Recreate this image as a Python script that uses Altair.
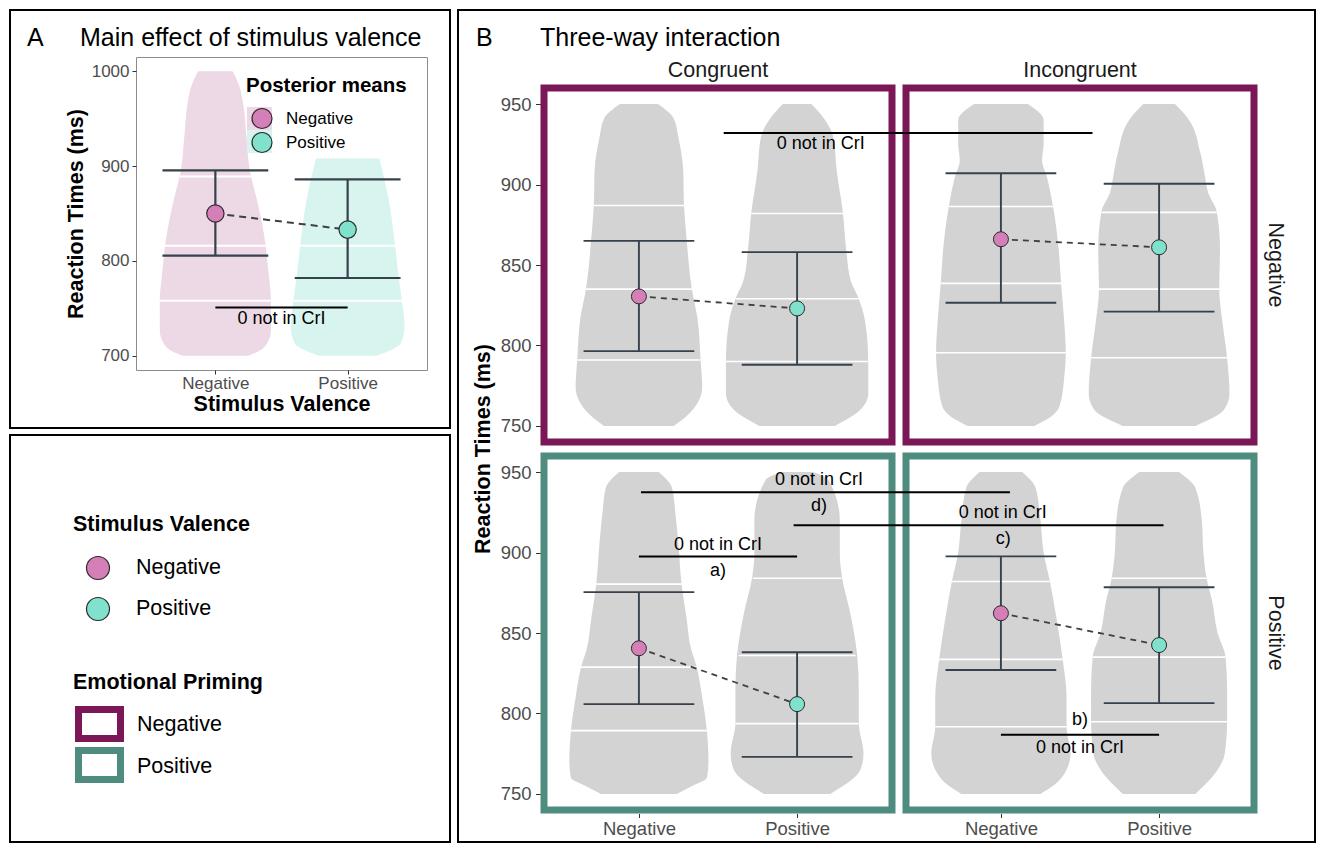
import altair as alt
import pandas as pd

FONT = "Liberation Sans"
PINK, TEAL = "#D47FB7", "#80E2CD"
PINK_LIGHT, TEAL_LIGHT = "#EDD8E6", "#D7F4EE"
PURPLE, GREEN = "#7B1657", "#4F8C80"
VIOLIN_GREY = "#D3D3D3"
BAR = "#37414B"
TICK_LABEL = "#4D4D4D"

VALENCE = ["Negative", "Positive"]
POS = [1, 2]
CONGRUENCY = ["Congruent", "Incongruent"]
PRIMING = ["Negative", "Positive"]

# ---------------- Panel A data ----------------
A_NEG_RT = [700, 705, 713, 727, 758, 790, 826, 861, 896, 931, 966, 985, 1000]
A_NEG_HW = [0.25, 0.33, 0.39, 0.42, 0.42, 0.40, 0.37, 0.32, 0.26, 0.235, 0.21, 0.18, 0.13]
A_POS_RT = [700, 705, 713, 731, 758, 790, 826, 861, 908]
A_POS_HW = [0.22, 0.31, 0.40, 0.43, 0.41, 0.38, 0.35, 0.315, 0.24]
A_QNEG_RT = [758, 816, 889]
A_QNEG_HW = [0.42, 0.38, 0.27]
A_QPOS_RT = [758, 816]
A_QPOS_HW = [0.41, 0.36]
A_MEAN = [850, 833]
A_LOW = [805.5, 782]
A_HIGH = [895.5, 886]
A_SIG_X = [1, 2]
A_SIG_Y = 751
A_SIG_LABEL_Y = 739

# ---------------- Panel B data ----------------
# TL: prime Negative / Congruent, TR: prime Negative / Incongruent
# BL: prime Positive / Congruent, BR: prime Positive / Incongruent
TL_NEG_RT = [750, 756, 766, 774, 791, 817, 835, 868, 887, 909, 929, 941, 950]
TL_NEG_HW = [0.22, 0.30, 0.38, 0.40, 0.39, 0.37, 0.335, 0.30, 0.285, 0.28, 0.25, 0.22, 0.12]
TL_POS_RT = [750, 760, 770, 790, 815, 829, 840, 860, 882, 909, 929, 941, 950]
TL_POS_HW = [0.24, 0.40, 0.45, 0.45, 0.43, 0.39, 0.34, 0.31, 0.29, 0.25, 0.23, 0.17, 0.09]
TR_NEG_RT = [750, 756, 762, 780, 795, 815, 839, 860, 886, 905, 915, 925, 940, 950]
TR_NEG_HW = [0.21, 0.32, 0.37, 0.40, 0.41, 0.40, 0.38, 0.365, 0.33, 0.29, 0.26, 0.27, 0.27, 0.17]
TR_POS_RT = [750, 760, 770, 792, 815, 835, 860, 883, 895, 905, 920, 940, 950]
TR_POS_HW = [0.23, 0.41, 0.445, 0.43, 0.40, 0.38, 0.385, 0.365, 0.31, 0.29, 0.26, 0.19, 0.10]
BL_NEG_RT = [750, 755, 760, 770, 789, 810, 829, 840, 860, 880, 905, 925, 940, 950]
BL_NEG_HW = [0.24, 0.34, 0.43, 0.44, 0.43, 0.40, 0.365, 0.33, 0.30, 0.27, 0.25, 0.23, 0.21, 0.125]
BL_POS_RT = [750, 765, 775, 794, 815, 836, 850, 865, 884, 900, 920, 945, 950]
BL_POS_HW = [0.21, 0.40, 0.42, 0.39, 0.39, 0.38, 0.36, 0.33, 0.285, 0.27, 0.27, 0.20, 0.10]
BR_NEG_RT = [750, 755, 765, 775, 792, 810, 834, 860, 882, 900, 920, 940, 950]
BR_NEG_HW = [0.25, 0.33, 0.415, 0.44, 0.415, 0.415, 0.39, 0.35, 0.31, 0.27, 0.25, 0.22, 0.135]
BR_POS_RT = [750, 765, 775, 795, 815, 835, 850, 870, 884, 900, 920, 940, 950]
BR_POS_HW = [0.23, 0.37, 0.415, 0.43, 0.43, 0.42, 0.37, 0.335, 0.30, 0.28, 0.27, 0.23, 0.125]

TL_Q_RT = [[791, 835, 887], [790, 829, 882]]
TL_Q_HW = [[0.39, 0.335, 0.285], [0.45, 0.39, 0.29]]
TR_Q_RT = [[795.5, 838.6, 886.4], [792.4, 835, 882.7]]
TR_Q_HW = [[0.41, 0.38, 0.33], [0.43, 0.38, 0.365]]
BL_Q_RT = [[789.3, 828.8, 880.4], [793.7, 836, 884]]
BL_Q_HW = [[0.43, 0.37, 0.27], [0.39, 0.37, 0.28]]
BR_Q_RT = [[791.7, 833.6, 882], [794.8, 835, 884]]
BR_Q_HW = [[0.415, 0.39, 0.31], [0.43, 0.42, 0.30]]

TL_MEAN, TL_LOW, TL_HIGH = [830.5, 823], [796.5, 788], [865, 858]
TR_MEAN, TR_LOW, TR_HIGH = [866, 861], [826.5, 821], [907, 900.5]
BL_MEAN, BL_LOW, BL_HIGH = [840.5, 805.8], [805.8, 773], [875.4, 838]
BR_MEAN, BR_LOW, BR_HIGH = [862.3, 842.5], [827, 806.4], [897.6, 878.4]

# brackets crossing from the Congruent panel to the Incongruent panel
XB_PRIME = ["Negative", "Positive", "Positive"]
XB_FROM = [1.536, 1.013, 1.978]
XB_TO = [1.579, 1.057, 2.028]
XB_Y = [932, 937.5, 917]
# brackets inside one panel
WB_PRIME = ["Positive", "Positive"]
WB_CONG = ["Congruent", "Incongruent"]
WB_FROM = [1, 1]
WB_TO = [2, 2]
WB_Y = [897.6, 786.7]
# bracket labels
LB_PRIME = ["Negative", "Positive", "Positive", "Positive", "Positive",
            "Positive", "Positive", "Positive", "Positive"]
LB_CONG = ["Congruent", "Congruent", "Congruent", "Incongruent", "Incongruent",
           "Congruent", "Congruent", "Incongruent", "Incongruent"]
LB_X = [2.149, 2.139, 2.139, 1.011, 1.015, 1.5, 1.5, 1.5, 1.5]
LB_Y = [925, 945, 929, 924.4, 908.6, 905, 888.5, 778.6, 795.8]
LB_TEXT = ["0 not in CrI", "0 not in CrI", "d)", "0 not in CrI", "c)",
           "0 not in CrI", "a)", "0 not in CrI", "b)"]

# ---------------- layout ----------------
A_W, A_H = 291, 313
B_W, B_H = 348, 354
B_GAP, B_SPY = 14, 14
ROW_W = 2 * B_W + B_GAP
SPACER_H = 31 - B_SPY
PITCH_U = (B_W + B_GAP) / (B_W / 2.2)
COL_OFF = [0, PITCH_U]
B_XDOM = [0.4, 2.6 + PITCH_U]
B_YDOM = [740, 960]
FRAME_BOTTOM = 785


def violin_frame(names, centers, rts_list, hws_list, key=""):
    rows = []
    for name, c, rts, hws in zip(names, centers, rts_list, hws_list):
        for r, h in zip(rts, hws):
            rows.append({"key": key + name, "valence": name, "rt": r, "lo": c - h, "hi": c + h})
    return pd.DataFrame(rows)


def summary_frame(means, lows, highs, cap, off=0.0, key=""):
    return pd.DataFrame({
        "key": [key] * 2, "valence": VALENCE, "center": [p + off for p in POS],
        "mean": means, "low": lows, "high": highs,
        "capl": [p + off - cap for p in POS], "capr": [p + off + cap for p in POS]})


def text_value(t, x, y, **kw):
    return alt.Chart(pd.DataFrame({"t": [t]})).mark_text(**kw).encode(
        x=alt.value(x), y=alt.value(y), text="t:N")


def box_value(x1, x2, y1, y2, **kw):
    return alt.Chart(pd.DataFrame({"f": [0]})).mark_rect(**kw).encode(
        x=alt.value(x1), x2=alt.value(x2), y=alt.value(y1), y2=alt.value(y2))


def frame_rect(x1, x2, y1, y2):
    return box_value(x1, x2, y1, y2, filled=False, stroke="black", strokeWidth=2)


# ---------------- Panel A ----------------
xsA = alt.Scale(domain=[0.4, 2.6], nice=False, zero=False)
ysA = alt.Scale(domain=[685, 1015], nice=False, zero=False)
axA_x = alt.Axis(values=POS, labelExpr=f"datum.value == 1 ? '{VALENCE[0]}' : '{VALENCE[1]}'",
                 title="Stimulus Valence", grid=False,
                 domain=False, tickSize=4, tickColor="#333333", labelFontSize=17,
                 labelColor=TICK_LABEL, labelPadding=1, titleFontSize=21.5,
                 titleFontWeight="bold", titleColor="black", titlePadding=2)
axA_y = alt.Axis(values=[700, 800, 900, 1000], format="d", title="Reaction Times (ms)", grid=False,
                 domain=False, tickSize=4, tickColor="#333333", labelFontSize=17,
                 labelColor=TICK_LABEL, labelPadding=3, titleFontSize=21.5,
                 titleFontWeight="bold", titleColor="black", titlePadding=4)


def XA(f):
    return alt.X(f, type="quantitative", scale=xsA, axis=axA_x)


def YA(f):
    return alt.Y(f, type="quantitative", scale=ysA, axis=axA_y)


dfA_v = violin_frame(VALENCE, POS, [A_NEG_RT, A_POS_RT], [A_NEG_HW, A_POS_HW])
dfA_q = violin_frame(VALENCE, POS, [A_QNEG_RT, A_QPOS_RT], [A_QNEG_HW, A_QPOS_HW])
dfA_s = summary_frame(A_MEAN, A_LOW, A_HIGH, 0.4)

violinA = alt.Chart(dfA_v).mark_area(orient="horizontal", interpolate="monotone", opacity=1).encode(
    y=YA("rt"), x=XA("lo"), x2="hi",
    fill=alt.Fill("valence:N", scale=alt.Scale(domain=VALENCE, range=[PINK_LIGHT, TEAL_LIGHT]),
                  legend=None))
quantA = alt.Chart(dfA_q).mark_rule(color="white", strokeWidth=1.8).encode(
    y=YA("rt"), x=XA("lo"), x2="hi")
baseA = alt.Chart(dfA_s)
errA = baseA.mark_rule(color=BAR, strokeWidth=2.2).encode(x=XA("center"), y=YA("low"), y2="high")
capHiA = baseA.mark_rule(color=BAR, strokeWidth=2.2).encode(x=XA("capl"), x2="capr", y=YA("high"))
capLoA = baseA.mark_rule(color=BAR, strokeWidth=2.2).encode(x=XA("capl"), x2="capr", y=YA("low"))
lineA = baseA.mark_line(color="#404040", strokeDash=[7, 5], strokeWidth=2).encode(
    x=XA("center"), y=YA("mean"))
ptsA = baseA.mark_point(filled=True, size=300, opacity=1, stroke="#2B2B2B", strokeWidth=1.2).encode(
    x=XA("center"), y=YA("mean"),
    fill=alt.Fill("valence:N", scale=alt.Scale(domain=VALENCE, range=[PINK, TEAL]),
                  legend=alt.Legend(title="Posterior means", orient="none", legendX=110, legendY=19,
                                    padding=0, symbolType="circle", symbolSize=400,
                                    symbolStrokeColor="#2B2B2B", symbolStrokeWidth=1.2,
                                    symbolOpacity=1, symbolOffset=5, labelOffset=13,
                                    labelFontSize=17, labelColor="black", titleFontSize=20.5,
                                    titleFontWeight="bold", titleColor="black", titlePadding=11,
                                    titleLimit=400, rowPadding=-3)))
sigA = alt.Chart(pd.DataFrame({"x1": [A_SIG_X[0]], "x2": [A_SIG_X[1]], "y": [A_SIG_Y]})).mark_rule(
    color="black", strokeWidth=2).encode(x=XA("x1"), x2="x2", y=YA("y"))
sigTextA = alt.Chart(pd.DataFrame({"x": [sum(A_SIG_X) / 2], "y": [A_SIG_LABEL_Y], "t": ["0 not in CrI"]})).mark_text(
    fontSize=18, color="black", baseline="middle").encode(x=XA("x"), y=YA("y"), text="t:N")

# legend key backgrounds (violin fill shown behind the legend symbols)
keyBgA = [box_value(111, 136, 50 + 23 * i, 73 + 23 * i, color=c, opacity=1)
          for i, c in enumerate([PINK_LIGHT, TEAL_LIGHT])]

legSV = alt.Chart(pd.DataFrame({"sv": VALENCE})).mark_point(
    filled=True, opacity=0, stroke="#2B2B2B", strokeWidth=1.2).encode(
    fill=alt.Fill("sv:N", scale=alt.Scale(domain=VALENCE, range=[PINK, TEAL]),
                  legend=alt.Legend(title="Stimulus Valence", orient="none", legendX=-63, legendY=457,
                                    padding=0, symbolType="circle", symbolSize=529,
                                    symbolStrokeColor="#2B2B2B", symbolStrokeWidth=1.2,
                                    symbolOpacity=1, symbolOffset=12.5, labelOffset=25.5,
                                    labelFontSize=21.5, labelColor="black", titleFontSize=21.5,
                                    titleFontWeight="bold", titleColor="black", titlePadding=20,
                                    titleLimit=400, rowPadding=12)))

# "Emotional Priming" key: outlined boxes in the panel border colours
legEP = [text_value("Emotional Priming", -63, 626, align="left", baseline="middle",
                    fontSize=21.5, fontWeight="bold", color="black")]
for i, (lab, col) in enumerate(zip(PRIMING, [PURPLE, GREEN])):
    legEP.append(box_value(-57.5, -15.5, 652.5 + 41 * i, 681.5 + 41 * i,
                           fill="white", stroke=col, strokeWidth=7, opacity=1))
    legEP.append(text_value(lab, 1, 668 + 42 * i, align="left", baseline="middle",
                            fontSize=21.5, color="black"))

panelA = alt.layer(
    violinA, quantA, errA, capHiA, capLoA, lineA, ptsA, sigA, sigTextA,
    *keyBgA,
    frame_rect(-126, 314, -47, 371),
    frame_rect(-126, 314, 378, FRAME_BOTTOM),
    text_value("A", -109, -11, align="left", baseline="alphabetic", fontSize=25, color="black"),
    text_value("Main effect of stimulus valence", -56, -11, align="left", baseline="alphabetic",
               fontSize=25, color="black"),
    legSV, *legEP,
).resolve_scale(fill="independent").properties(
    width=A_W, height=A_H, view=alt.ViewBackground(stroke="#8C8C8C", strokeWidth=1))

# ---------------- Panel B ----------------
xsB = alt.Scale(domain=B_XDOM, nice=False, zero=False)
ysB = alt.Scale(domain=B_YDOM, nice=False, zero=False)
B_TICKS = [p + o for o in COL_OFF for p in POS]
B_LABEL_EXPR = (f"(datum.value < 1.5 || (datum.value > 2.6 && datum.value < {1.5 + PITCH_U:.4f})) "
                f"? '{VALENCE[0]}' : '{VALENCE[1]}'")
axB_x = alt.Axis(values=B_TICKS, labelExpr=B_LABEL_EXPR, title=None, grid=False, domain=False,
                 tickSize=4, tickColor="#333333", offset=3.5, labelFontSize=18.5,
                 labelColor=TICK_LABEL, labelPadding=2)
axB_y = alt.Axis(values=[750, 800, 850, 900, 950], title=None, grid=False, domain=False,
                 tickSize=5, tickColor="#333333", offset=3.5, labelFontSize=18.5,
                 labelColor=TICK_LABEL, labelPadding=4.5)

CELLS = {
    ("Negative", "Congruent"): ([TL_NEG_RT, TL_POS_RT], [TL_NEG_HW, TL_POS_HW], TL_Q_RT, TL_Q_HW,
                                TL_MEAN, TL_LOW, TL_HIGH),
    ("Negative", "Incongruent"): ([TR_NEG_RT, TR_POS_RT], [TR_NEG_HW, TR_POS_HW], TR_Q_RT, TR_Q_HW,
                                  TR_MEAN, TR_LOW, TR_HIGH),
    ("Positive", "Congruent"): ([BL_NEG_RT, BL_POS_RT], [BL_NEG_HW, BL_POS_HW], BL_Q_RT, BL_Q_HW,
                                BL_MEAN, BL_LOW, BL_HIGH),
    ("Positive", "Incongruent"): ([BR_NEG_RT, BR_POS_RT], [BR_NEG_HW, BR_POS_HW], BR_Q_RT, BR_Q_HW,
                                  BR_MEAN, BR_LOW, BR_HIGH),
}


def b_row(prime, show_x, border):
    axx = axB_x if show_x else None

    def X(f):
        return alt.X(f, type="quantitative", scale=xsB, axis=axx)

    def Y(f):
        return alt.Y(f, type="quantitative", scale=ysB, axis=axB_y)

    dv, dq, ds = [], [], []
    for cong, off in zip(CONGRUENCY, COL_OFF):
        rts, hws, qrt, qhw, mean, low, high = CELLS[(prime, cong)]
        centers = [p + off for p in POS]
        dv.append(violin_frame(VALENCE, centers, rts, hws, key=cong))
        dq.append(violin_frame(VALENCE, centers, qrt, qhw, key=cong))
        ds.append(summary_frame(mean, low, high, 0.35, off=off, key=cong))
    dv, dq, ds = pd.concat(dv), pd.concat(dq), pd.concat(ds)

    borders = pd.DataFrame({"x1": [0.4 + o for o in COL_OFF], "x2": [2.6 + o for o in COL_OFF],
                            "y1": [B_YDOM[0]] * 2, "y2": [B_YDOM[1]] * 2})
    layers = [
        alt.Chart(borders).mark_rect(filled=False, stroke=border, strokeWidth=7).encode(
            x=X("x1"), x2="x2", y=Y("y1"), y2="y2"),
        alt.Chart(dv).mark_area(orient="horizontal", interpolate="monotone", opacity=1,
                                color=VIOLIN_GREY).encode(
            y=Y("rt"), x=X("lo"), x2="hi", detail="key:N"),
        alt.Chart(dq).mark_rule(color="white", strokeWidth=1.6).encode(
            y=Y("rt"), x=X("lo"), x2="hi"),
        alt.Chart(ds).mark_rule(color=BAR, strokeWidth=1.9).encode(x=X("center"), y=Y("low"), y2="high"),
        alt.Chart(ds).mark_rule(color=BAR, strokeWidth=1.9).encode(x=X("capl"), x2="capr", y=Y("high")),
        alt.Chart(ds).mark_rule(color=BAR, strokeWidth=1.9).encode(x=X("capl"), x2="capr", y=Y("low")),
        alt.Chart(ds).mark_line(color="#404040", strokeDash=[6, 5], strokeWidth=1.8).encode(
            x=X("center"), y=Y("mean"), detail="key:N"),
        alt.Chart(ds).mark_point(filled=True, size=225, opacity=1, stroke="#2B2B2B", strokeWidth=1).encode(
            x=X("center"), y=Y("mean"),
            fill=alt.Fill("valence:N", scale=alt.Scale(domain=VALENCE, range=[PINK, TEAL]), legend=None)),
    ]
    off_of = dict(zip(CONGRUENCY, COL_OFF))
    rows = [{"x1": a + off_of[c], "x2": b + off_of[c], "y": y}
            for p, c, a, b, y in zip(WB_PRIME, WB_CONG, WB_FROM, WB_TO, WB_Y) if p == prime]
    rows += [{"x1": a, "x2": b + PITCH_U, "y": y}
             for p, a, b, y in zip(XB_PRIME, XB_FROM, XB_TO, XB_Y) if p == prime]
    if rows:
        layers.append(alt.Chart(pd.DataFrame(rows)).mark_rule(color="black", strokeWidth=2).encode(
            x=X("x1"), x2="x2", y=Y("y")))
    labs = [{"x": x + off_of[c], "y": y, "t": t}
            for p, c, x, y, t in zip(LB_PRIME, LB_CONG, LB_X, LB_Y, LB_TEXT) if p == prime]
    if labs:
        layers.append(alt.Chart(pd.DataFrame(labs)).mark_text(
            fontSize=18, color="black", baseline="middle").encode(x=X("x"), y=Y("y"), text="t:N"))
    if prime == PRIMING[0]:
        strips = pd.DataFrame({"x": [1.5 + o for o in COL_OFF], "t": CONGRUENCY})
        layers.append(alt.Chart(strips).mark_text(fontSize=21.5, color="#1A1A1A", baseline="middle").encode(
            x=X("x"), y=alt.value(-17), text="t:N"))
    layers.append(text_value(prime, ROW_W + 20.5, B_H / 2, align="center", baseline="middle",
                             angle=90, fontSize=21.5, color="#1A1A1A"))
    return alt.layer(*layers).properties(
        width=ROW_W, height=B_H, view=alt.ViewBackground(stroke="transparent"))


rowTop = b_row(PRIMING[0], False, PURPLE)
rowBot = b_row(PRIMING[1], True, GREEN)

rows_center = SPACER_H + B_SPY + B_H + B_SPY / 2
spacer = alt.layer(
    frame_rect(-86, 771, -47, FRAME_BOTTOM),
    text_value("B", -68, -11, align="left", baseline="alphabetic", fontSize=25, color="black"),
    text_value("Three-way interaction", -4, -11, align="left", baseline="alphabetic",
               fontSize=25, color="black"),
    text_value("Reaction Times (ms)", -60, rows_center, align="center", baseline="middle",
               angle=270, fontSize=21.5, fontWeight="bold", color="black"),
).properties(width=1, height=SPACER_H, view=alt.ViewBackground(stroke="transparent"))

panelB = alt.vconcat(spacer, rowTop, rowBot, spacing=B_SPY, bounds="flush")

chart = alt.hconcat(panelA, panelB, spacing=117, bounds="flush").resolve_scale(
    fill="independent").properties(
    padding=0, background="white").configure(font=FONT).configure_view(stroke="transparent")

chart.save("out.html", embed_options={"renderer": "svg", "actions": False})
